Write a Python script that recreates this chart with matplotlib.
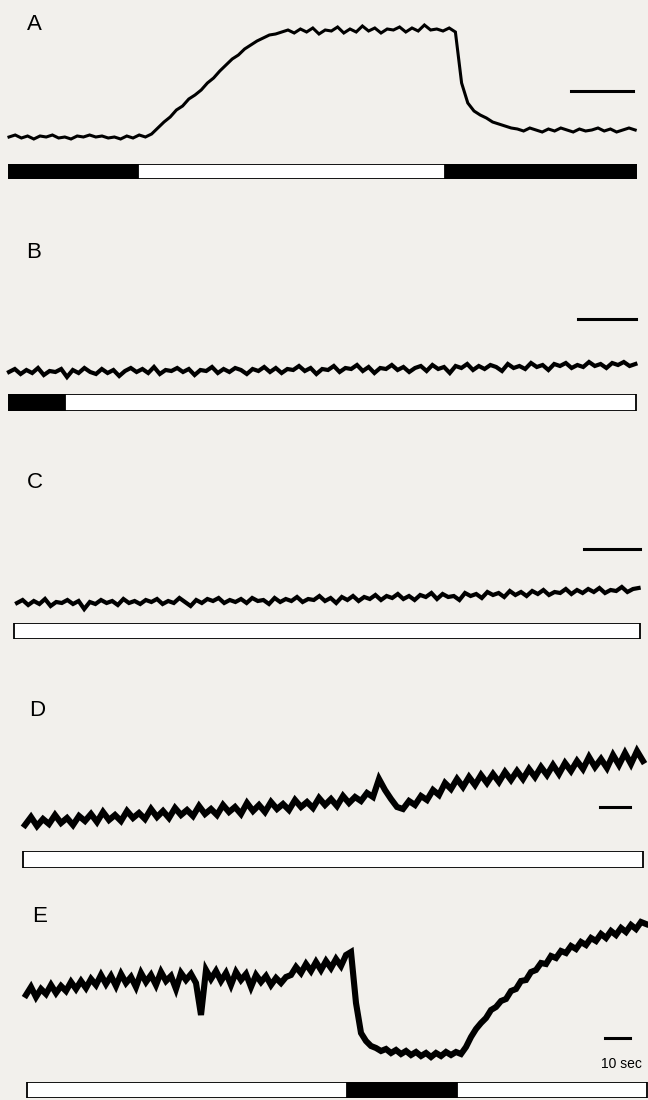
import matplotlib.pyplot as plt
import numpy as np

# recorded traces (arbitrary units, up = positive), sampled every dt seconds
a_dt = 1.0
a_trace = [8, 10, 7, 9, 6, 9, 8, 10, 7, 8, 6, 9, 8, 10, 8, 9, 7, 8, 6, 9, 7, 10, 8,
           11, 17, 23, 28, 35, 39, 46, 50, 55, 62, 67, 74, 80, 86, 90, 96, 100, 104, 107, 110, 111, 113,
           115, 112, 116, 113, 117, 111, 115, 114, 118, 112, 116, 113, 119, 114, 117, 112, 116, 115, 118,
           113, 117, 114, 120, 115, 116, 114, 117,
           113, 62, 42, 34, 30, 27, 23, 21, 19, 17,
           16, 14, 17, 15, 13, 16, 14, 17, 15, 13, 16, 14, 15, 17, 14, 16, 13, 15, 17, 15]

b_dt = 1.0
b_trace = [13, 16, 11, 15, 12, 17, 10, 14, 13, 16, 8, 15, 12, 17, 13, 11, 16, 12, 15, 9,
           14, 17, 13, 16, 12, 18, 11, 15, 14, 17, 13, 16, 10, 15, 14, 18, 12, 16, 13, 17,
           15, 11, 16, 14, 18, 13, 17, 12, 16, 15, 19, 14, 17, 11, 16, 15, 19, 13, 17, 16,
           20, 14, 18, 12, 17, 16, 20, 15, 18, 13, 17, 19, 14, 20, 16, 18, 12, 19, 17, 21,
           15, 19, 16, 20, 18, 14, 21, 17, 19, 16, 22, 18, 20, 15, 21, 19, 22, 17, 20, 18,
           23, 19, 21, 17, 22, 20, 23, 19, 21]

c_dt = 1.0
c_trace = [12, 15, 10, 14, 11, 16, 9, 13, 12, 15, 11, 14, 6, 13, 11, 15, 12, 14, 10, 16,
           12, 14, 11, 15, 13, 16, 11, 14, 12, 17, 13, 9, 15, 12, 16, 14, 17, 12, 15, 13,
           16, 12, 17, 14, 15, 11, 17, 13, 16, 14, 18, 13, 16, 15, 19, 14, 17, 12, 18, 15,
           19, 14, 18, 16, 20, 15, 19, 17, 21, 16, 19, 15, 20, 18, 22, 16, 21, 18, 19, 15,
           22, 19, 21, 17, 23, 20, 22, 18, 24, 20, 23, 19, 24, 21, 25, 20, 23, 22, 26, 21,
           25, 22, 26, 23, 27, 22, 25, 24, 28, 23, 26, 27]

d_dt = 2.0
d_trace = [20, 28, 19, 26, 21, 30, 22, 27, 20, 29, 24, 31, 23, 33, 25, 30, 24, 34, 27, 32,
           26, 36, 28, 34, 27, 37, 30, 35, 29, 39, 31, 36, 30, 40, 33, 38, 31, 42, 34, 40,
           33, 43, 36, 41, 35, 45, 38, 43, 37, 47, 40, 46, 39, 49, 42, 48, 44, 52, 48, 66,
           55, 46, 38, 36, 44, 40, 49, 45, 55, 50, 62, 56, 66, 58, 68, 60, 70, 62, 71, 63,
           73, 65, 74, 66, 76, 68, 78, 70, 80, 71, 82, 74, 84, 76, 88, 78, 86, 77, 90, 80,
           92, 81, 94, 84]

e_dt = 2.0
e_trace = [70, 78, 68, 76, 71, 80, 72, 79, 74, 83, 76, 84, 77, 86, 80, 90, 81, 89, 79, 91,
           82, 88, 78, 92, 83, 90, 80, 93, 84, 89, 76, 92, 85, 91, 82, 50, 95, 86, 94, 84,
           92, 80, 93, 85, 91, 78, 90, 83, 89, 80, 87, 82, 88, 90, 98, 92, 101, 94, 103, 95,
           104, 97, 106, 99, 110, 113, 62, 32, 24, 19, 17, 14, 16, 12, 15, 11, 14, 10, 13, 9,
           12, 8, 12, 9, 13, 10, 13, 11, 18, 28, 36, 42, 47, 55, 58, 64, 66, 74, 76, 84,
           85, 93, 95, 102, 101, 109, 107, 114, 112, 119, 116, 123, 120, 127, 124, 131, 127, 134, 130, 137,
           133, 140, 136, 143, 141]

# light stimulus bars: (start, end) of whole bar and dark periods, seconds
a_bar = (0.0, 101.1)
a_dark = [(0.0, 20.8), (70.3, 101.1)]
b_bar = (0.0, 108.1)
b_dark = [(0.0, 9.7)]
c_bar = (-0.5, 111.2)
c_dark = []
d_bar = (-0.7, 206.0)
d_dark = []
e_bar = (0.4, 248.4)
e_dark = [(128.4, 172.4)]

scale_sec = 10

W, H = 648, 1100
bg = '#f2f0ec'
fig = plt.figure(figsize=(W / 100, H / 100), dpi=100, facecolor=bg)


def axes_px(top, bottom):
    ax = fig.add_axes([0, 1 - bottom / H, 1, (bottom - top) / H])
    ax.set_axis_off()
    return ax


panels = [
    ('A', a_trace, a_dt, a_bar, a_dark, dict(x0=9, pps=6.2, base=145, bar=(164, 179), label=(27, 24), sb=(571, 91), lw=2.2)),
    ('B', b_trace, b_dt, b_bar, b_dark, dict(x0=9, pps=5.8, base=385, bar=(394, 411), label=(26, 253), sb=(578, 319), lw=3.0)),
    ('C', c_trace, c_dt, c_bar, c_dark, dict(x0=17, pps=5.6, base=615, bar=(623, 639), label=(27, 483), sb=(584, 549), lw=3.0)),
    ('D', d_trace, d_dt, d_bar, d_dark, dict(x0=25, pps=3.0, base=845, bar=(851, 868), label=(29, 711), sb=(600, 807), lw=4.4)),
    ('E', e_trace, e_dt, e_bar, e_dark, dict(x0=26, pps=2.5, base=1065, bar=(1082, 1098), label=(32, 917), sb=(605, 1038), lw=4.4)),
]

for name, trace, dt, bar, dark, lay in panels:
    xlim = (-lay['x0'] / lay['pps'], (W - lay['x0']) / lay['pps'])

    ax = axes_px(lay['base'] - 160, lay['base'])
    ax.set_xlim(*xlim)
    ax.set_ylim(0, 160)
    t = np.arange(len(trace)) * dt
    ax.plot(t, trace, color='black', lw=lay['lw'], solid_joinstyle='miter')

    # time scale bar
    t_sb = (lay['sb'][0] - lay['x0']) / lay['pps']
    v_sb = lay['base'] - lay['sb'][1]
    ax.plot([t_sb, t_sb + scale_sec], [v_sb, v_sb], color='black', lw=2.2, clip_on=False)

    # light / dark bar
    bx = axes_px(*lay['bar'])
    bx.set_xlim(*xlim)
    bx.set_ylim(0, 1)
    bx.barh(0.5, bar[1] - bar[0], left=bar[0], height=1, color='white', edgecolor='black', lw=1.3)
    for s, e in dark:
        bx.barh(0.5, e - s, left=s, height=1, color='black', edgecolor='black', lw=1.3)

    fig.text(lay['label'][0] / W, 1 - lay['label'][1] / H, name, fontsize=16,
             family='Liberation Sans', ha='left', va='center')

fig.text(621 / W, 1 - 1064 / H, '10 sec', fontsize=10, family='Liberation Sans',
         ha='center', va='center')

fig.savefig('out.png', dpi=100, facecolor=bg)
